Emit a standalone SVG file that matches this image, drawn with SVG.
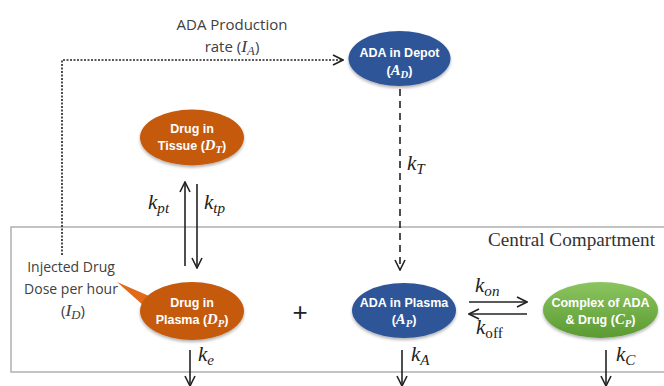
<svg xmlns="http://www.w3.org/2000/svg" width="664" height="386" viewBox="0 0 664 386">
<defs>
<style>
.lbl{font-family:"Open Sans","Liberation Sans",sans-serif;font-size:15px;fill:#404040}
.nt{font-family:"Liberation Sans",Arial,sans-serif;font-size:12.5px;font-weight:bold;fill:#fff}
.m{font-family:"Liberation Serif","DejaVu Serif",serif;font-style:italic;font-size:118%}
.k{font-family:"Liberation Serif","DejaVu Serif",serif;font-style:italic;font-size:21px;fill:#222}
.sub{font-size:72%}
.ln{stroke:#222;stroke-width:1.6;fill:none}
</style>
<marker id="ah" viewBox="0 0 12 12" refX="11" refY="6" markerWidth="12" markerHeight="12" markerUnits="userSpaceOnUse" orient="auto">
<path d="M1,1 L11,6 L1,11" fill="none" stroke="#222" stroke-width="1.6"/>
</marker>
<linearGradient id="gg" x1="0" y1="0" x2="0" y2="1">
<stop offset="0" stop-color="#8cc560"/>
<stop offset="1" stop-color="#5b9a32"/>
</linearGradient>
<filter id="sh" x="-20%" y="-20%" width="140%" height="150%">
<feDropShadow dx="0" dy="2" stdDeviation="1.5" flood-color="#000" flood-opacity="0.3"/>
</filter>
</defs>
<rect width="664" height="386" fill="#fff"/>

<g id="compartment">
<rect x="11" y="227" width="680" height="145" fill="none" stroke="#b0b0b0" stroke-width="1.5"/>
<text x="488" y="246" textLength="167" lengthAdjust="spacingAndGlyphs" style="font-family:'Liberation Serif',serif;font-size:18px;fill:#333">Central Compartment</text>
</g>

<g id="connectors">
<path class="ln" d="M62,255 V60 H343" stroke-dasharray="2,1.5" marker-end="url(#ah)"/>
<path class="ln" d="M400,89 V270" stroke-dasharray="7,5" marker-end="url(#ah)"/>
<path class="ln" d="M185,266 V182" marker-end="url(#ah)"/>
<path class="ln" d="M197,184 V268" marker-end="url(#ah)"/>
<path class="ln" d="M469,302 H527" marker-end="url(#ah)"/>
<path class="ln" d="M527,314 H469" marker-end="url(#ah)"/>
<path class="ln" d="M190,350 V386" marker-end="url(#ah)"/>
<path class="ln" d="M402,350 V386" marker-end="url(#ah)"/>
<path class="ln" d="M606,350 V386" marker-end="url(#ah)"/>
<text class="k" x="407" y="170">k<tspan class="sub" dy="4">T</tspan></text>
<text class="k" x="148" y="209">k<tspan class="sub" dy="4">pt</tspan></text>
<text class="k" x="204" y="209">k<tspan class="sub" dy="4">tp</tspan></text>
<text class="k" x="475" y="292">k<tspan class="sub" dy="4">on</tspan></text>
<text class="k" x="476" y="334">k<tspan class="sub" dy="4" style="font-style:normal">off</tspan></text>
<text class="k" x="198" y="361">k<tspan class="sub" dy="4">e</tspan></text>
<text class="k" x="411" y="361">k<tspan class="sub" dy="4">A</tspan></text>
<text class="k" x="616" y="361">k<tspan class="sub" dy="4">C</tspan></text>
</g>

<g id="production-label">
<text class="lbl" x="232" y="30" text-anchor="middle">ADA Production</text>
<text class="lbl" x="232" y="52" text-anchor="middle">rate (<tspan class="m">I<tspan class="sub" dy="3">A</tspan></tspan><tspan dy="-3">)</tspan></text>
</g>

<g id="injected-label">
<text class="lbl" x="71" y="272" text-anchor="middle" style="font-size:14px">Injected Drug</text>
<text class="lbl" x="71" y="294" text-anchor="middle" style="font-size:14px">Dose per hour</text>
<text class="lbl" x="73" y="316" text-anchor="middle">(<tspan class="m">I<tspan class="sub" dy="3">D</tspan></tspan><tspan dy="-3">)</tspan></text>
<polygon points="117,282 149,296 144,306" fill="#e06a1a"/>
</g>

<g id="ada-depot">
<ellipse cx="399.5" cy="58.5" rx="51" ry="27.5" fill="#2f5597" filter="url(#sh)"/>
<text class="nt" x="399.5" y="57" text-anchor="middle">ADA in Depot</text>
<text class="nt" x="399.5" y="75" text-anchor="middle">(<tspan class="m">A<tspan class="sub" dy="3">D</tspan></tspan><tspan dy="-3">)</tspan></text>
</g>

<g id="drug-tissue">
<ellipse cx="192" cy="137.5" rx="52" ry="28" fill="#c55a11" filter="url(#sh)"/>
<text class="nt" x="192" y="133" text-anchor="middle">Drug in</text>
<text class="nt" x="192" y="150" text-anchor="middle">Tissue (<tspan class="m">D<tspan class="sub" dy="3">T</tspan></tspan><tspan dy="-3">)</tspan></text>
</g>

<g id="drug-plasma">
<ellipse cx="192" cy="311" rx="52" ry="29" fill="#c55a11" filter="url(#sh)"/>
<text class="nt" x="192" y="307" text-anchor="middle">Drug in</text>
<text class="nt" x="192" y="324" text-anchor="middle">Plasma (<tspan class="m">D<tspan class="sub" dy="3">P</tspan></tspan><tspan dy="-3">)</tspan></text>
</g>

<g id="plus">
<text x="300" y="321" text-anchor="middle" style="font-family:'Liberation Sans',sans-serif;font-size:26px;fill:#222">+</text>
</g>

<g id="ada-plasma">
<ellipse cx="404" cy="310.5" rx="52" ry="27.5" fill="#2f5597" filter="url(#sh)"/>
<text class="nt" x="404" y="307" text-anchor="middle">ADA in Plasma</text>
<text class="nt" x="404" y="324" text-anchor="middle">(<tspan class="m">A<tspan class="sub" dy="3">P</tspan></tspan><tspan dy="-3">)</tspan></text>
</g>

<g id="complex">
<ellipse cx="600.5" cy="310" rx="57.5" ry="28" fill="url(#gg)" filter="url(#sh)"/>
<text class="nt" x="600.5" y="307" text-anchor="middle">Complex of ADA</text>
<text class="nt" x="600.5" y="324" text-anchor="middle">&amp; Drug (<tspan class="m">C<tspan class="sub" dy="3">P</tspan></tspan><tspan dy="-3">)</tspan></text>
</g>
</svg>
